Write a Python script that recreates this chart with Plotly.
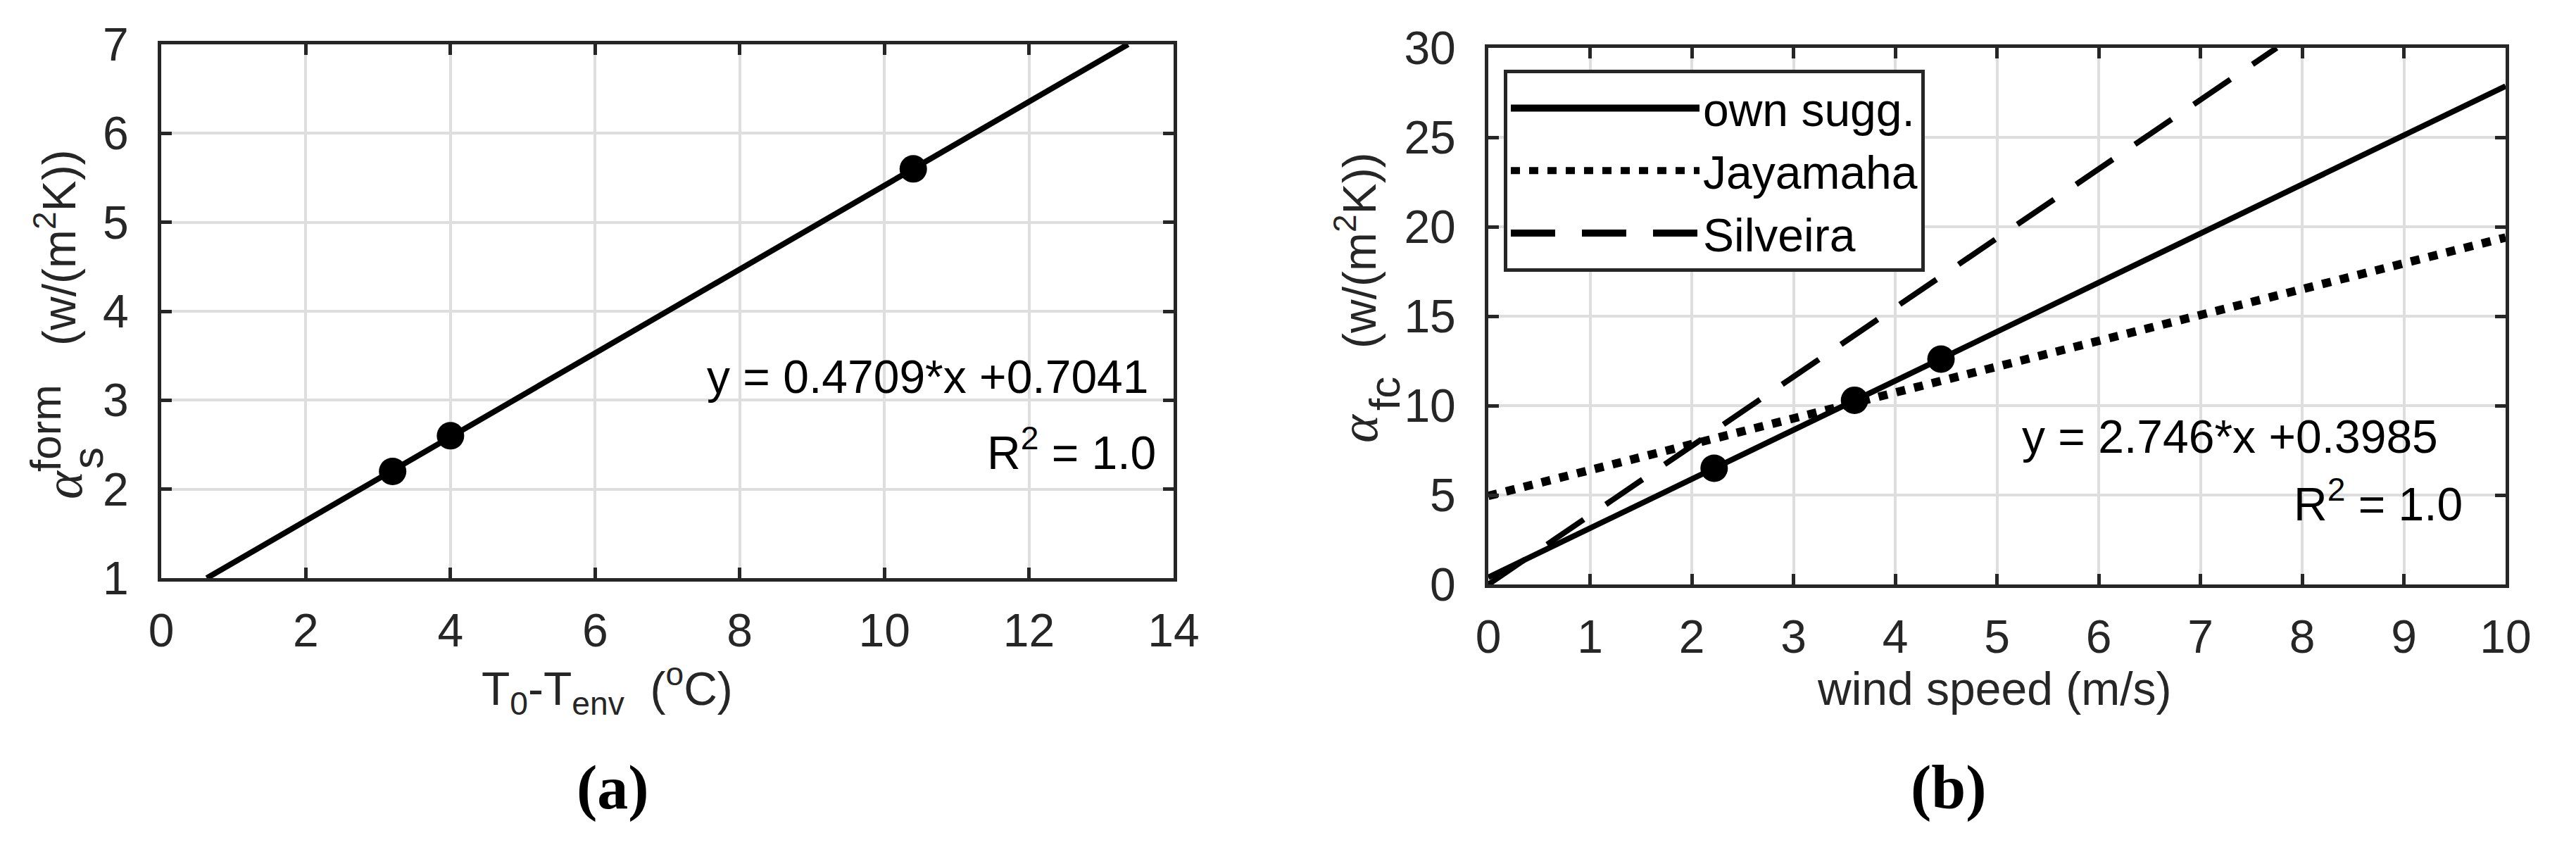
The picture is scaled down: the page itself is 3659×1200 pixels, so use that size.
import plotly.graph_objects as go

W, H = 3659, 1200
SANS = "Liberation Sans, Arial, Helvetica, sans-serif"
SERIF = "Liberation Serif, Times New Roman, serif"
DARK = "#262626"
GRID = "#dedede"

# ---------------- panel (a) data ----------------
a_pts_x = [3.2, 4.0, 10.4]
a_pts_y = [2.2, 2.6, 5.6]
a_fit_x = [0.63, 13.37]
a_fit_y = [1.0, 7.0]
a_xticks = [0, 2, 4, 6, 8, 10, 12, 14]
a_yticks = [1, 2, 3, 4, 5, 6, 7]

# ---------------- panel (b) data ----------------
b_pts_x = [2.22, 3.6, 4.45]
b_pts_y = [6.5, 10.3, 12.6]
own_x = [0, 10]
own_y = [0.4, 27.86]
jay_x = [0, 10]
jay_y = [4.95, 19.4]
sil_x = [0, 7.75]
sil_y = [0, 30]
b_xticks = [0, 1, 2, 3, 4, 5, 6, 7, 8, 9, 10]
b_yticks = [0, 5, 10, 15, 20, 25, 30]
legend_names = ["own sugg.", "Jayamaha", "Silveira"]


def px_x(p):
    return p / W


def px_y(p):
    return 1 - p / H


fig = go.Figure()

LW = 8
SOLID = "solid"
DOT = "13px,13px"
DASH = "63px,38px"

# panel (a)
fig.add_trace(go.Scatter(x=a_fit_x, y=a_fit_y, mode="lines",
                         line=dict(color="black", width=LW),
                         showlegend=False, xaxis="x", yaxis="y"))
fig.add_trace(go.Scatter(x=a_pts_x, y=a_pts_y, mode="markers",
                         marker=dict(color="black", size=39, line=dict(width=0)),
                         showlegend=False, xaxis="x", yaxis="y"))

# panel (b)
fig.add_trace(go.Scatter(x=own_x, y=own_y, mode="lines",
                         line=dict(color="black", width=LW, dash=SOLID),
                         showlegend=False, xaxis="x2", yaxis="y2"))
fig.add_trace(go.Scatter(x=jay_x, y=jay_y, mode="lines",
                         line=dict(color="black", width=12, dash=DOT),
                         showlegend=False, xaxis="x2", yaxis="y2"))
fig.add_trace(go.Scatter(x=sil_x, y=sil_y, mode="lines",
                         line=dict(color="black", width=LW, dash=DASH),
                         showlegend=False, xaxis="x2", yaxis="y2"))
fig.add_trace(go.Scatter(x=b_pts_x, y=b_pts_y, mode="markers",
                         marker=dict(color="black", size=39, line=dict(width=0)),
                         showlegend=False, xaxis="x2", yaxis="y2"))

# legend entries (styled like the reference legend)
for name, dash in zip(legend_names, [SOLID, DOT, DASH]):
    fig.add_trace(go.Scatter(x=[None], y=[None], mode="lines", name=name,
                             line=dict(color="black", width=12, dash=dash),
                             showlegend=True, xaxis="x2", yaxis="y2"))

axis_common = dict(
    showline=True, linecolor=DARK, linewidth=5, mirror="ticks",
    ticks="inside", ticklen=15, tickwidth=5, tickcolor=DARK,
    showgrid=True, gridcolor=GRID, gridwidth=4, zeroline=False,
    tickfont=dict(family=SANS, size=66, color=DARK),
)

fig.update_layout(
    width=W, height=H,
    margin=dict(l=0, r=0, t=0, b=0, autoexpand=False),
    paper_bgcolor="white", plot_bgcolor="white",
    xaxis=dict(domain=[px_x(229), px_x(1667)], range=[0, 14],
               tickvals=a_xticks, ticklabelstandoff=13, anchor="y", **axis_common),
    yaxis=dict(domain=[px_y(821), px_y(63)], range=[1, 7],
               tickvals=a_yticks, ticklabelstandoff=28, anchor="x", **axis_common),
    xaxis2=dict(domain=[px_x(2114), px_x(3559)], range=[0, 10],
                tickvals=b_xticks, ticklabelstandoff=13, anchor="y2", **axis_common),
    yaxis2=dict(domain=[px_y(830), px_y(68)], range=[0, 30],
                tickvals=b_yticks, ticklabelstandoff=28, anchor="x2", **axis_common),
    legend=dict(x=px_x(2136), y=px_y(99), xanchor="left", yanchor="top",
                bgcolor="white", bordercolor=DARK, borderwidth=5,
                font=dict(family=SANS, size=66, color="black"),
                itemwidth=268, tracegroupgap=0),
)

annotations = []


def ann(text, x, y, size=66, family=SANS, angle=0, xanchor="center",
        yanchor="middle", color="black"):
    annotations.append(dict(text=text, x=px_x(x), y=px_y(y), xref="paper", yref="paper",
                            showarrow=False, textangle=angle, xanchor=xanchor,
                            yanchor=yanchor, font=dict(family=family, size=size, color=color)))


# fit equations
ann("y = 0.4709*x +0.7041", 1634, 535, xanchor="right")
ann("R<sup>2</sup> = 1.0", 1644, 638, xanchor="right")
ann("y = 2.746*x +0.3985", 3465, 620, xanchor="right")
ann("R<sup>2</sup> = 1.0", 3500, 711, xanchor="right")

# x titles
ann("T<sub>0</sub>-T<sub>env</sub>\u00a0\u00a0(<sup>o</sup>C)", 862, 978, color=DARK)
ann("wind speed (m/s)", 2833, 978, color=DARK)

# y titles (a)
ann("<i>α</i>", 90, 688, size=76, family=SERIF, angle=-90, color=DARK)
ann("s", 124, 651, size=62, angle=-90, color=DARK)
ann("form", 64, 608, size=62, angle=-90, color=DARK)
ann("(w/(m<sup>2</sup>K))", 79, 352, angle=-90, color=DARK)
# y titles (b)
ann("<i>α</i>", 1930, 608, size=76, family=SERIF, angle=-90, color=DARK)
ann("fc", 1966, 559, size=62, angle=-90, color=DARK)
ann("(w/(m<sup>2</sup>K))", 1926, 356, angle=-90, color=DARK)

# panel labels
ann("<b>(a)</b>", 870, 1118, size=88, family=SERIF)
ann("<b>(b)</b>", 2768, 1118, size=88, family=SERIF)

fig.update_layout(annotations=annotations)
fig.write_html(
    "out.html",
    config={"displayModeBar": False},
    post_script="document.body.style.margin='0px';document.body.style.padding='0px';"
                "document.body.style.overflow='hidden';",
)
